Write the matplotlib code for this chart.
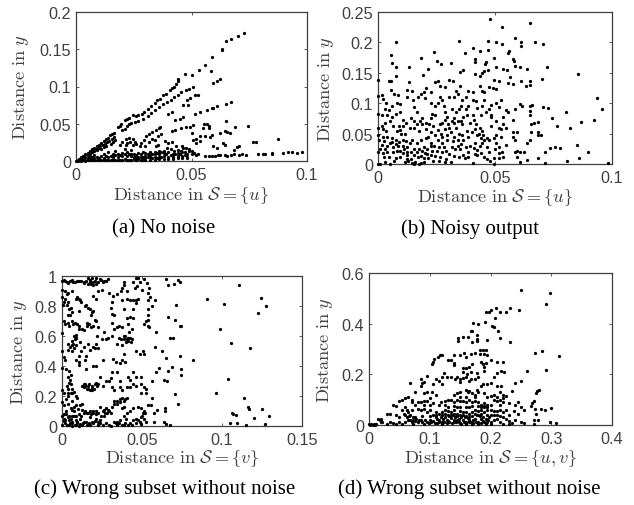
import numpy as np
import matplotlib
matplotlib.use('Agg')
import matplotlib.pyplot as plt

plt.rcParams['mathtext.fontset'] = 'cm'
plt.rcParams['font.family'] = ['Liberation Sans', 'DejaVu Sans']

# values, (distance in S, distance in y)
points_a = [
    (.0727,.1714),(.0703,.1673),(.067,.1642),(.0649,.1606),(.0633,.1508),(.0631,.1495),(.0589,.14),(.056,.1284),(.0583,.1212),
    (.0534,.1221),(.0504,.115),(.0473,.1172),(.0443,.1105),(.044,.1069),(.0623,.1105),(.0609,.1069),(.0595,.105),
    (.0147,.0345),(.0155,.036),(.0165,.037),(.018,.0456),(.019,.047),(.0195,.05),(.021,.0546),(.022,.056),(.023,.058),
    (.0248,.0613),(.026,.06),(.027,.0615),(.0284,.0635),(.0295,.066),(.0313,.0702),(.0325,.0735),(.034,.078),(.0349,.0814),
    (.0365,.083),(.0378,.0881),(.039,.09),(.0407,.0949),(.0415,.0975),(.0425,.1),(.0435,.103),
    (.02,.041),(.021,.043),(.022,.047),(.023,.049),(.024,.051),(.0255,.053),(.027,.054),(.029,.057),(.031,.06),(.0325,.064),
    (.034,.068),(.036,.072),(.0375,.076),(.0395,.079),(.041,.082),(.0425,.086),(.044,.088),(.0455,.092),(.0475,.095),(.049,.097),(.0505,.1),
    (.0015,.003),(.002,.005),(.003,.007),(.004,.009),(.005,.011),(.006,.014),(.007,.016),(.008,.018),(.009,.02),(.01,.022),
    (.011,.024),(.012,.027),(.013,.029),(.014,.031),(.0015,.002),(.003,.005),(.004,.006),(.005,.008),(.006,.01),(.007,.012),
    (.008,.013),(.009,.015),(.01,.017),(.011,.016),(.012,.019),(.013,.02),(.015,.023),(.016,.026),(.017,.028),(.006,.006),(.008,.008),
    (.053,.0881),(.0515,.0881),(.0494,.0846),(.0479,.0823),(.0465,.0747),(.0486,.0747),(.0417,.0658),(.04,.0635),(.0465,.059),(.045,.0568),(.0429,.0546),
    (.0671,.0792),(.065,.077),(.0609,.0734),(.0587,.0711),(.0566,.0689),(.0537,.0658),(.0515,.0635),(.0595,.0715),
    (.019,.022),(.02,.026),(.0215,.029),(.023,.031),(.0245,.03),(.0255,.026),(.026,.023),(.0235,.025),(.022,.024),(.028,.024),(.03,.02),
    (.0295,.028),(.0305,.034),(.0315,.036),(.033,.039),(.0345,.041),(.036,.044),(.0365,.046),(.034,.028),(.0355,.033),(.037,.036),(.033,.03),
    (.0355,.022),(.0385,.027),(.04,.024),(.0415,.025),(.0425,.014),(.0435,.02),(.046,.02),(.0475,.018),(.049,.016),(.05,.013),(.052,.024),
    (.0505,.028),(.052,.03),(.0535,.034),(.05,.038),(.0495,.045),(.0505,.048),(.0475,.045),(.0455,.044),(.043,.042),(.0415,.04),(.0535,.027),
    (.056,.033),(.058,.032),(.0575,.047),(.0555,.05),(.0565,.05),(.0575,.044),(.055,.044),(.0595,.02),(.061,.018),(.059,.035),(.0625,.037),
    (.0645,.04),(.0655,.039),(.0665,.038),(.065,.054),(.069,.046),(.0745,.047),(.0645,.022),(.0635,.024),(.0695,.019),(.0685,.015),(.0705,.02),
    (.0765,.025),(.078,.025),(.0875,.029),(.052,.008),(.053,.009),(.056,.007),(.0575,.007),(.059,.007),(.06,.007),(.0615,.008),(.0625,.008),
    (.0645,.008),(.0655,.007),(.067,.008),(.0685,.009),(.0705,.008),(.072,.009),(.0735,.008),(.0789,.0098),(.081,.009),(.082,.009),(.0847,.0098),
    (.085,.0105),(.0895,.0107),(.0919,.0116),(.0935,.0116),(.0955,.0107),(.098,.0116),
    (.003,.001),(.005,.001),(.007,.001),(.009,.002),(.011,.002),(.013,.001),(.015,.002),(.017,.002),(.019,.002),(.021,.003),(.023,.002),(.025,.003),
    (.027,.003),(.029,.002),(.004,.002),(.006,.003),(.008,.004),(.01,.004),(.012,.004),(.014,.005),(.016,.005),(.018,.006),(.02,.007),(.022,.007),
    (.024,.007),(.026,.008),(.028,.009),(.03,.007),(.032,.008),(.034,.009),(.036,.01),(.038,.011),(.04,.012),(.042,.01),(.044,.011),(.046,.012),
    (.048,.01),(.05,.009),(.051,.011),(.0,.0),(.001,.001),(.002,.001),(.016,.009),(.018,.01),(.02,.011),(.022,.012),(.024,.01),(.026,.004),(.028,.005),
    (.03,.004),(.032,.005),(.034,.006),(.036,.006),(.038,.007),(.04,.006),(.042,.005),(.044,.007),(.046,.007),(.048,.006),(.03,.011),(.032,.012),(.034,.012),
    (.036,.013),(.038,.013),(.041,.016),(.044,.015),(.047,.012),(.049,.013),(.012,.01),(.014,.012),(.017,.014),(.021,.016),(.024,.015),
    (.001,.0),(.002,.0),(.004,.0),(.006,.001),(.008,.001),(.01,.001),(.012,.001),(.014,.001),(.016,.001),(.018,.001),(.02,.001),(.022,.001),(.024,.001),
    (.026,.001),(.028,.001),(.03,.001),(.032,.002),(.034,.002),(.036,.003),(.038,.003),(.04,.003),(.042,.003),(.044,.004),(.046,.004),(.048,.004),
    (.005,.004),(.007,.005),(.009,.006),(.011,.007),(.013,.007),(.015,.007),(.017,.008),(.019,.008),(.021,.009),(.023,.009),(.025,.01),(.027,.011),
    (.029,.012),(.031,.01),(.033,.01),(.035,.011),(.037,.012),(.039,.009),(.041,.008),(.043,.009),(.045,.009),(.047,.008),(.025,.005),(.027,.006),(.029,.006),
    (.031,.006),(.033,.004),(.035,.004),(.037,.005),(.0215,.021),(.0245,.022),(.0275,.02),(.0315,.025),(.0345,.02),(.0395,.018),(.0455,.014),(.0465,.017),
    (.0075,.014),(.0085,.016),(.0095,.018),(.0105,.02),(.0115,.021),(.0125,.023),(.0135,.025),(.0145,.027),(.0155,.03),(.0165,.032),
]
points_b = [
    (.0478,.238),(.0532,.225),(.0649,.232),(.0586,.207),(.061,.201),(.0612,.194),(.067,.201),(.0703,.197),(.0469,.202),(.0504,.2),(.0532,.197),
    (.056,.186),(.0557,.182),(.0347,.203),(.0075,.201),(.024,.184),(.0405,.19),(.0435,.186),(.0373,.183),(.0468,.188),(.0057,.179),(.0058,.166),
    (.0075,.159),(.0076,.145),(.0133,.159),(.0183,.174),(.0254,.17),(.0268,.165),(.031,.166),(.0415,.173),(.0415,.167),(.0462,.168),(.0458,.165),
    (.0497,.174),(.0575,.173),(.058,.17),(.0585,.161),(.0605,.16),(.0635,.157),(.0722,.159),(.0213,.157),(.0192,.147),(.0133,.135),(.0,.138),
    (.0045,.136),(.0055,.136),(.0145,.12),(.0125,.122),(.0255,.137),(.0245,.135),(.0265,.128),(.0305,.138),(.032,.137),(.035,.152),(.0365,.154),
    (.0415,.148),(.0435,.145),(.0445,.15),(.0455,.153),(.047,.155),(.0505,.16),(.0535,.156),(.055,.155),(.0565,.143),(.0555,.134),(.0575,.132),
    (.0613,.137),(.0633,.128),(.0648,.13),(.065,.137),(.0702,.14),(.0855,.148),(.0935,.108),(.0957,.091),(.0925,.072),(.0868,.069),(.0898,.02),
    (.0858,.01),(.0852,.031),(.0808,.005),(.0777,.026),(.0735,.027),(.0715,.001),(.0685,.01),(.0705,.0945),(.0728,.092),(.0745,.076),(.0765,.062),
    (.0805,.085),(.0822,.06),(.0755,.028),(.0712,.02),(.0695,.047),(.0685,.047),(.0682,.069),(.0658,.097),(.0648,.096),(.0648,.087),(.0648,.08),
    (.0655,.065),(.0668,.068),(.0655,.052),(.0685,.052),(.0622,.02),(.0605,.02),(.0595,.022),(.0585,.019),(.0592,.012),(.0605,.003),(.0635,.035),
    (.065,.04),(.0635,.006),(.0575,.052),(.0575,.045),(.0585,.04),(.0605,.098),(.0615,.095),(.0585,.09),(.0575,.072),(.0595,.053),(.0985,.001),
    (.0,.112),(.0015,.114),(.002,.107),(.0035,.1),(.0055,.122),(.007,.115),(.008,.1),(.0095,.098),(.0,.083),(.004,.08),(.006,.078),(.0075,.083),
    (.0095,.085),(.0,.06),(.002,.058),(.003,.068),(.005,.07),(.0065,.062),(.009,.063),(.0105,.062),(.0115,.05),(.01,.05),(.0,.047),(.002,.045),
    (.004,.045),(.006,.043),(.0075,.04),(.0025,.038),(.005,.035),(.0005,.04),(.0015,.032),(.0085,.03),(.0065,.028),(.0105,.03),(.0125,.028),(.0,.019),
    (.002,.018),(.004,.019),(.0065,.02),(.008,.021),(.0105,.018),(.0125,.02),(.014,.02),(.0,.0),(.001,.0),(.003,.003),(.005,.0),(.0075,.01),(.0095,.012),
    (.0115,.004),(.013,.005),(.0145,.002),(.0175,.0),(.0185,.002),(.0125,.014),(.0155,.024),(.0165,.035),(.0145,.04),(.0185,.04),(.0205,.043),(.0215,.045),
    (.0175,.055),(.0155,.06),(.0165,.065),(.0135,.06),(.0205,.067),(.022,.065),(.0235,.062),(.0255,.056),(.027,.05),(.0285,.058),(.03,.066),(.0315,.07),
    (.0285,.072),(.0295,.078),(.0245,.08),(.023,.083),(.019,.075),(.0165,.085),(.0155,.093),(.015,.105),(.017,.11),(.0185,.115),(.0195,.118),(.0205,.125),
    (.02,.108),(.0225,.1),(.0245,.095),(.0255,.1),(.028,.095),(.0285,.085),(.0315,.09),(.0335,.085),(.0345,.09),(.0355,.095),(.0375,.09),(.0385,.095),
    (.0405,.105),(.042,.103),(.0285,.127),(.0305,.11),(.0325,.11),(.0335,.12),(.034,.115),(.035,.128),(.0375,.11),(.0435,.128),(.0445,.12),(.0455,.118),
    (.0455,.105),(.0475,.126),(.049,.125),(.0495,.138),(.0505,.124),(.0515,.137),(.0525,.105),(.0505,.1),(.0485,.097),(.0475,.09),(.0485,.08),(.0505,.07),
    (.0485,.077),(.0515,.093),(.0545,.088),(.0555,.085),(.0535,.078),(.0535,.065),(.0545,.06),(.044,.08),(.0425,.092),(.0405,.08),(.0395,.068),(.041,.072),
    (.042,.065),(.0435,.06),(.0445,.055),(.0425,.048),(.038,.055),(.036,.065),(.0355,.07),(.0335,.06),(.0345,.05),(.0365,.04),(.0325,.045),(.031,.052),
    (.0295,.04),(.0275,.035),(.0255,.04),(.024,.03),(.0225,.035),(.021,.025),(.0195,.028),(.02,.018),(.0225,.015),(.0245,.013),(.0215,.01),(.0275,.02),
    (.0265,.012),(.029,.008),(.0285,.003),(.031,.003),(.0325,.013),(.034,.03),(.0355,.033),(.0375,.028),(.0385,.02),(.0365,.015),(.0345,.012),(.0405,.001),
    (.0415,.017),(.0435,.03),(.0445,.035),(.0465,.028),(.0475,.02),(.0495,.01),(.0495,.0),(.0515,.01),(.0515,.018),(.053,.02),(.0535,.012),(.0505,.035),
    (.0495,.042),(.0475,.04),(.0455,.04),(.0415,.035),(.0545,.032),(.0525,.045),(.0505,.048),
    (.001,.025),(.003,.025),(.004,.03),(.006,.036),(.0075,.033),(.009,.037),(.0105,.04),(.012,.038),(.0135,.035),(.0155,.015),(.017,.012),(.0185,.013),
    (.0195,.01),(.021,.017),(.023,.022),(.025,.022),(.026,.028),(.028,.028),(.029,.022),(.0305,.017),(.0315,.028),(.033,.024),(.035,.025),(.037,.01),(.0385,.012),
    (.0395,.03),(.041,.027),(.0425,.023),(.044,.018),(.0455,.012),(.0465,.008),(.048,.005),(.05,.025),(.0515,.028),(.0125,.008),(.014,.008),(.016,.003),(.0195,.004),
    (.0235,.005),(.026,.005),(.0275,.045),(.0295,.048),(.032,.038),(.034,.04),(.036,.048),(.0385,.045),(.04,.052),(.0415,.058),(.043,.05),(.045,.048),(.0465,.042),
    (.0225,.052),(.0245,.048),(.0265,.065),(.0275,.068),(.0305,.06),(.0325,.068),(.034,.07),(.0365,.078),(.038,.08),(.0105,.072),(.012,.068),(.014,.075),(.0155,.07),
    (.018,.07),(.019,.065),(.0205,.058),(.0225,.075),(.008,.055),(.0095,.056),(.0035,.055),(.0015,.062),(.0045,.088),(.006,.095),(.0085,.113),(.0015,.08),(.003,.09),
    (.0125,.11),(.0225,.118),(.0265,.11),(.0275,.105),(.036,.105),(.0385,.12),(.0405,.118),(.0445,.095),(.046,.085),(.0485,.062),(.0515,.06),(.0525,.058),(.0155,.0),
    (.007,.005),(.0025,.012),(.0045,.012),(.011,.025),(.0095,.022),(.0425,.015),(.044,.042),(.0325,.075),(.0225,.03),(.0175,.025),(.0165,.02),(.019,.022),
]
points_c = [
    (.1106,.94),(.1246,.856),(.1273,.802),(.1227,.751),(.101,.815),(.0908,.849),(.0985,.649),(.1058,.553),(.1177,.522),(.0817,.442),(.1038,.313),(.0963,.218),
    (.1135,.184),(.1163,.129),(.117,.111),(.125,.113),(.1294,.064),(.1198,.056),(.106,.089),(.107,.078),(.1085,.071),(.105,.022),(.1096,.022),(.1152,.007),(.1267,.013),
    (.065,.977),(.066,.942),(.07,.947),(.0725,.975),(.0735,.96),(.0715,.81),(.0665,.73),(.0705,.71),(.074,.67),(.0745,.67),(.0675,.585),(.0695,.59),(.058,.525),
    (.0625,.5),(.065,.455),(.0735,.465),(.0745,.38),(.0745,.34),(.0685,.395),(.0665,.37),(.0605,.39),(.0585,.36),(.0635,.31),(.0655,.3),(.0705,.215),(.0725,.15),
    (.0645,.12),(.0645,.1),(.0595,.11),(.0575,.09),(.0635,.025),(.065,.012),(.0675,.005),
    (.0,.965),(.002,.97),(.004,.955),(.006,.975),(.008,.96),(.0105,.97),(.0135,.955),(.015,.97),(.0165,.95),(.0175,.975),(.019,.985),(.0205,.97),(.0215,.99),(.0225,.96),
    (.0245,.975),(.0265,.965),(.0275,.97),(.0195,.94),(.0175,.96),(.0385,.96),(.039,.94),(.0445,.96),(.046,.985),(.0475,.99),(.049,.96),(.0515,.98),(.053,.955),(.0545,.92),
    (.047,.935),(.0455,.92),(.05,.905),(.0535,.89),(.0405,.9),(.037,.9),(.0375,.92),(.0345,.88),(.032,.87),(.0315,.83),(.0295,.89),(.025,.91),(.0225,.9),(.0215,.85),(.0195,.87),
    (.0,.905),(.002,.9),(.004,.89),(.006,.9),(.0,.86),(.002,.85),(.004,.83),(.0005,.81),(.0085,.85),(.0105,.845),(.012,.83),(.015,.81),(.0175,.78),(.0185,.76),(.0195,.765),
    (.0055,.79),(.006,.76),(.0105,.77),(.0035,.74),(.005,.74),(.0015,.7),(.002,.68),(.0035,.69),(.006,.7),(.008,.69),(.0095,.68),(.0105,.67),(.0125,.65),(.014,.64),(.0155,.69),
    (.017,.68),(.0195,.67),(.0205,.71),(.0215,.7),(.0225,.66),(.0265,.63),(.0305,.79),(.0315,.75),(.0325,.74),(.0315,.69),(.0325,.65),(.0345,.66),(.0355,.67),(.0375,.66),
    (.0405,.72),(.0425,.73),(.0415,.68),(.0435,.65),(.042,.625),(.0445,.72),(.0445,.84),(.046,.82),(.0475,.85),(.055,.86),(.0535,.84),(.058,.84),(.0565,.8),(.0535,.78),
    (.0535,.74),(.0525,.7),(.0535,.71),(.0515,.68),(.0535,.67),(.0545,.66),(.0585,.63),(.0465,.84),(.0405,.85),(.0425,.84),(.0445,.78),(.0385,.78),(.0375,.84),
    (.0,.62),(.004,.55),(.005,.53),(.006,.57),(.0075,.6),(.0085,.61),(.011,.56),(.009,.54),(.0075,.52),(.0,.5),(.001,.46),(.002,.44),(.012,.5),(.0105,.47),(.0165,.55),(.0195,.53),
    (.0215,.55),(.0225,.52),(.022,.6),(.025,.58),(.0275,.58),(.0285,.59),(.0315,.6),(.0355,.59),(.037,.58),(.039,.58),(.0395,.6),(.0415,.57),(.0425,.59),(.043,.56),(.0375,.54),
    (.0345,.55),(.0465,.5),(.0505,.5),(.0515,.48),(.0485,.48),(.0385,.48),(.0395,.43),(.0375,.44),(.0365,.42),(.0335,.43),(.032,.45),(.0255,.44),(.0195,.4),(.021,.4),(.015,.38),
    (.0145,.44),(.0105,.43),(.0105,.41),(.009,.44),(.0,.39),(.0025,.38),(.0045,.37),(.0055,.34),(.0035,.33),(.003,.27),(.0045,.29),(.0055,.28),(.0065,.25),(.0,.24),(.001,.22),
    (.0035,.22),(.0055,.22),(.0075,.23),(.0085,.2),(.0095,.19),(.0135,.26),(.0145,.28),(.0155,.25),(.0165,.27),(.0175,.24),(.0185,.27),(.02,.25),(.0215,.29),(.0225,.28),(.0235,.33),
    (.0255,.27),(.0275,.3),(.0295,.3),(.0305,.32),(.0315,.26),(.0325,.24),(.031,.36),(.0345,.36),(.0365,.3),(.0365,.26),(.0375,.24),(.0415,.33),(.0425,.31),(.0445,.28),(.046,.27),
    (.0425,.26),(.0405,.26),(.0495,.28),(.051,.26),(.0525,.25),(.0525,.22),(.0495,.22),(.0565,.19),(.0565,.3),(.0445,.36),(.0465,.33),(.0495,.33),
    (.0,.16),(.0015,.14),(.0025,.1),(.004,.15),(.0055,.12),(.0075,.13),(.009,.14),(.0115,.14),(.0125,.15),(.0145,.1),(.0165,.09),(.0175,.1),(.0195,.09),(.0215,.1),(.0235,.13),
    (.0255,.1),(.0265,.11),(.0275,.12),(.0285,.11),(.0315,.13),(.0325,.17),(.0345,.17),(.0365,.16),(.0385,.17),(.0395,.18),(.0405,.19),(.0375,.12),(.0425,.1),(.0445,.12),
    (.0475,.13),(.0495,.12),(.051,.1),(.052,.09),(.0535,.14),(.0555,.14),(.0,.07),(.001,.05),(.002,.04),(.0035,.06),(.0055,.05),(.0075,.07),(.0085,.04),(.0095,.03),(.0115,.05),
    (.013,.02),(.015,.03),(.0175,.06),(.0195,.02),(.0215,.05),(.024,.04),(.026,.07),(.028,.09),(.0305,.0),(.0325,.03),(.0345,.01),(.0365,.04),(.0385,.01),(.04,.05),(.0425,.02),
    (.0445,.04),(.0465,.05),(.0485,.03),(.05,.07),(.0515,.05),(.0495,.015),(.0525,.03),(.0,.01),(.003,.01),(.005,.02),(.0065,.03),(.0105,.0),(.0125,.01),(.0175,.005),(.0225,.01),
    (.0345,.03),(.0385,.07),(.0405,.09),(.0575,.025),
    (.001,.975),(.003,.96),(.005,.97),(.007,.96),(.0095,.965),(.012,.97),(.014,.96),(.016,.985),(.018,.95),(.0195,.96),(.021,.95),(.0235,.98),(.0255,.96),(.0285,.98),
    (.003,.88),(.001,.83),(.003,.81),(.0045,.78),(.007,.68),(.0045,.67),(.0105,.65),(.018,.66),(.0155,.67),(.0095,.86),(.0115,.84),(.0145,.8),(.0165,.79),(.018,.74),
    (.006,.54),(.007,.55),(.008,.58),(.009,.59),(.004,.51),(.0065,.5),(.0135,.53),(.015,.47),(.0175,.51),(.0205,.52),(.0385,.6),(.0405,.58),(.04,.56),(.041,.59),(.0435,.58),
    (.0145,.265),(.016,.245),(.017,.28),(.0185,.255),(.019,.24),(.0205,.28),(.022,.27),(.0135,.28),(.0125,.27),(.005,.31),(.006,.22),(.0035,.25),(.004,.2),(.0065,.17),(.0025,.18),
    (.006,.11),(.0075,.1),(.01,.115),(.0125,.11),(.0135,.09),(.0155,.085),(.018,.08),(.0195,.1),(.021,.08),(.0225,.09),(.0245,.07),(.027,.09),(.0295,.1),(.0305,.09),
    (.001,.08),(.0025,.08),(.0045,.07),(.006,.065),(.0085,.07),(.0105,.08),(.012,.07),(.0045,.04),(.0065,.02),(.008,.01),(.0095,.02),(.0115,.015),(.0135,.025),(.0155,.01),
    (.017,.02),(.0185,.03),(.0205,.035),(.0225,.03),(.0235,.02),(.0255,.01),(.0275,.02),(.0295,.01),(.0335,.02),(.0355,.02),(.0375,.005),(.0395,.02),(.0415,.005),(.0435,.01),
    (.0465,.02),(.0475,.04),(.0495,.06),(.0505,.09),(.0385,.13),(.0345,.15),(.0325,.15),(.036,.18),(.0375,.19),(.001,.035),(.002,.02),(.0045,.005),(.0065,.0),(.0085,.005),
]
points_d = [
    (.25,.534),(.298,.521),(.292,.476),(.313,.272),(.284,.291),(.273,.283),(.291,.218),(.26,.213),(.28,.138),(.277,.135),(.299,.068),(.289,.058),
    (.275,.125),(.271,.095),(.269,.085),(.267,.075),(.273,.065),(.283,.065),(.275,.045),(.271,.02),(.279,.02),(.298,.012),(.307,.007),(.272,.005),
    (.232,.327),(.215,.343),(.232,.46),(.226,.445),(.216,.447),(.209,.46),(.2,.455),(.197,.445),(.192,.445),(.247,.454),(.207,.422),(.202,.392),
    (.212,.373),(.205,.385),(.191,.405),(.18,.4),(.172,.403),(.168,.372),(.17,.37),(.177,.355),(.178,.34),(.178,.33),(.169,.326),(.163,.348),(.154,.347),
    (.147,.342),(.147,.33),(.195,.336),(.14,.275),(.149,.275),(.156,.283),(.16,.27),(.168,.28),(.175,.285),(.182,.298),(.188,.295),(.193,.298),(.19,.28),
    (.194,.275),(.182,.28),(.117,.278),(.12,.275),(.113,.27),(.107,.26),(.105,.25),(.104,.24),(.13,.255),(.135,.257),(.14,.245),(.14,.235),
    (.155,.225),(.16,.225),(.165,.23),(.17,.24),(.155,.21),(.162,.2),(.168,.21),(.178,.205),(.184,.25),(.187,.24),(.193,.245),(.2,.255),(.21,.25),(.22,.25),
    (.19,.23),(.19,.215),(.21,.205),(.217,.215),(.222,.21),(.205,.19),(.18,.19),(.175,.18),(.168,.18),(.16,.19),(.15,.17),(.142,.18),(.135,.19),(.128,.19),
    (.123,.205),(.12,.19),(.115,.175),(.11,.18),(.12,.16),(.105,.16),(.095,.195),(.085,.18),(.087,.165),(.085,.155),(.068,.165),(.09,.17),
    (.24,.165),(.25,.175),(.235,.135),(.24,.08),(.245,.09),(.25,.07),(.255,.06),(.23,.085),(.225,.115),(.22,.12),(.215,.13),(.21,.155),(.217,.155),
    (.2,.165),(.195,.16),(.187,.16),(.18,.13),(.177,.14),(.17,.125),(.163,.13),(.15,.13),(.145,.125),(.14,.12),(.135,.1),(.125,.095),(.118,.09),(.11,.12),
    (.103,.13),(.095,.13),(.09,.125),(.075,.13),(.065,.11),(.06,.105),(.055,.1),(.05,.095),(.045,.075),(.04,.08),(.03,.045),(.035,.045),(.02,.025),(.015,.025),
    (.08,.09),(.085,.09),(.09,.095),(.095,.095),(.1,.105),(.105,.085),(.115,.08),(.13,.07),(.14,.09),(.145,.1),(.15,.095),(.155,.095),(.16,.09),(.165,.07),
    (.175,.11),(.18,.09),(.185,.08),(.19,.085),(.195,.07),(.2,.08),(.205,.1),(.21,.095),(.215,.08),(.22,.09),(.225,.06),(.23,.04),(.238,.055),(.245,.045),
    (.06,.07),(.065,.05),(.07,.06),(.075,.08),(.08,.065),(.085,.06),(.09,.065),(.095,.05),(.1,.06),(.11,.05),(.12,.04),(.125,.06),(.13,.055),(.135,.05),
    (.14,.06),(.145,.045),(.15,.055),(.155,.04),(.16,.05),(.165,.045),(.17,.035),(.175,.06),(.18,.055),(.185,.045),(.19,.05),(.195,.04),(.2,.04),(.205,.055),
    (.21,.04),(.215,.035),(.22,.03),(.225,.025),(.23,.015),(.24,.02),(.25,.01),(.255,.008),(.0,.002),(.004,.002),(.008,.002),(.012,.003),(.02,.01),(.03,.005),
    (.035,.01),(.04,.008),(.045,.005),(.05,.012),(.055,.005),(.06,.01),(.063,.03),(.065,.02),(.068,.04),(.07,.012),(.073,.005),(.075,.03),(.08,.01),
    (.085,.02),(.09,.005),(.095,.012),(.1,.02),(.105,.015),(.11,.03),(.112,.008),(.115,.02),(.12,.012),(.125,.03),(.13,.015),(.135,.028),(.14,.01),(.145,.02),
    (.15,.008),(.155,.02),(.16,.012),(.165,.02),(.17,.005),(.175,.025),(.18,.012),(.185,.022),(.19,.01),(.195,.012),(.2,.005),(.205,.02),(.21,.025),
    (.215,.01),(.22,.005),(.23,.003),(.235,.008),(.118,.03),(.122,.025),(.128,.02),(.132,.035),(.138,.04),(.142,.03),(.148,.025),(.152,.03),(.158,.03),
    (.163,.028),(.172,.018),(.178,.04),(.183,.035),(.188,.03),(.193,.025),(.198,.03),(.06,.04),(.066,.035),(.072,.03),(.078,.025),(.088,.035),(.1,.035),
    (.002,.0),(.006,.001),(.01,.001),(.018,.02),(.022,.012),(.045,.04),(.05,.03),(.055,.06),(.058,.045),(.062,.06),(.067,.02),(.072,.02),(.076,.015),(.082,.02),
    (.088,.012),(.092,.02),(.098,.008),(.102,.01),(.108,.008),(.112,.025),(.116,.012),(.12,.005),(.124,.01),(.128,.008),(.132,.012),(.136,.008),(.14,.02),
    (.144,.01),(.148,.012),(.152,.005),(.156,.01),(.16,.005),(.164,.01),(.168,.012),(.172,.008),(.176,.012),(.18,.005),(.184,.008),(.188,.015),(.192,.005),(.196,.02),(.2,.012),
    (.105,.04),(.11,.038),(.115,.045),(.12,.05),(.125,.045),(.13,.04),(.135,.038),(.14,.045),(.145,.035),(.15,.04),(.155,.05),(.16,.035),(.165,.03),(.17,.05),(.175,.045),
    (.18,.04),(.185,.06),(.19,.07),(.195,.08),(.2,.06),(.205,.04),(.21,.055),(.215,.06),(.22,.05),(.17,.09),(.175,.095),(.165,.1),(.16,.11),(.15,.11),(.16,.07),(.17,.075),
    (.18,.075),(.185,.07),(.19,.075),(.195,.06),(.145,.07),(.15,.07),(.14,.075),(.13,.1),(.125,.08),(.1,.08),(.09,.08),(.07,.09),(.07,.1),
    (.145,.19),(.15,.18),(.155,.185),(.165,.175),(.185,.155),(.19,.125),(.195,.11),(.2,.115),(.205,.12),(.21,.11),(.215,.1),(.22,.105),(.16,.14),(.165,.135),(.175,.12),
]

x_label_a = r'$\mathrm{Distance\ in}\ \mathcal{S}=\lbrace u\rbrace$'
x_label_c = r'$\mathrm{Distance\ in}\ \mathcal{S}=\lbrace v\rbrace$'
x_label_d = r'$\mathrm{Distance\ in}\ \mathcal{S}=\lbrace u,v\rbrace$'
y_label = r'$\mathrm{Distance\ in}\ y$'
captions = ['(a) No noise', '(b) Noisy output', '(c) Wrong subset without noise', '(d) Wrong subset without noise']

W, H = 634, 506
GRAY = '#404040'


def panel(px, points, xticks, xlabels, yticks, ylabels, xlabel, caption, cap_x, cap_y, ylab_x, xlab_y):
    ax = fig.add_axes([px[0] / W, 1 - px[3] / H, (px[1] - px[0]) / W, (px[3] - px[2]) / H])
    xy = np.array(points)
    ax.scatter(xy[:, 0], xy[:, 1], s=5.5, color='black', linewidths=0, clip_on=False, zorder=3)
    ax.set_xlim(xticks[0], xticks[-1])
    ax.set_ylim(yticks[0], yticks[-1])
    ax.set_xticks(xticks)
    ax.set_xticklabels(xlabels)
    ax.set_yticks(yticks)
    ax.set_yticklabels(ylabels)
    ax.tick_params(axis='both', direction='in', top=True, right=True, length=2.5, width=0.6, color=GRAY,
                   labelcolor=GRAY, labelsize=11.7)
    ax.tick_params(axis='x', pad=4)
    ax.tick_params(axis='y', pad=3.5)
    for s in ax.spines.values():
        s.set_linewidth(0.9)
        s.set_color(GRAY)
    # label centres measured in pixels, as the automatic spot runs into the tick labels
    fig.text((px[0] + px[1]) / 2 / W, 1 - xlab_y / H, xlabel, fontsize=13.2, color=GRAY, ha='center', va='center')
    fig.text(ylab_x / W, 1 - (px[2] + px[3]) / 2 / H, y_label, fontsize=13.2, color=GRAY, ha='center', va='center',
             rotation=90)
    fig.text(cap_x / W, 1 - cap_y / H, caption, family='Liberation Serif', fontsize=15,
             color='black', ha='center', va='center')


fig = plt.figure(figsize=(W / 100, H / 100), dpi=100)
panel((76, 307, 13, 162), points_a, [0, .05, .1], ['0', '0.05', '0.1'], [0, .05, .1, .15, .2],
      ['0', '0.05', '0.1', '0.15', '0.2'], x_label_a, captions[0], 164, 229, 21, 196)
panel((378, 612, 13, 165), points_b, [0, .05, .1], ['0', '0.05', '0.1'], [0, .05, .1, .15, .2, .25],
      ['0', '0.05', '0.1', '0.15', '0.2', '0.25'], x_label_a, captions[1], 470, 229, 326, 198)
panel((62, 302, 277, 427), points_c, [0, .05, .1, .15], ['0', '0.05', '0.1', '0.15'], [0, .2, .4, .6, .8, 1],
      ['0', '0.2', '0.4', '0.6', '0.8', '1'], x_label_c, captions[2], 165, 489, 19, 459)
panel((369, 612, 274, 426), points_d, [0, .1, .2, .3, .4], ['0', '0.1', '0.2', '0.3', '0.4'], [0, .2, .4, .6],
      ['0', '0.2', '0.4', '0.6'], x_label_d, captions[3], 469, 489, 325, 459)

plt.savefig('out.png', dpi=100)
